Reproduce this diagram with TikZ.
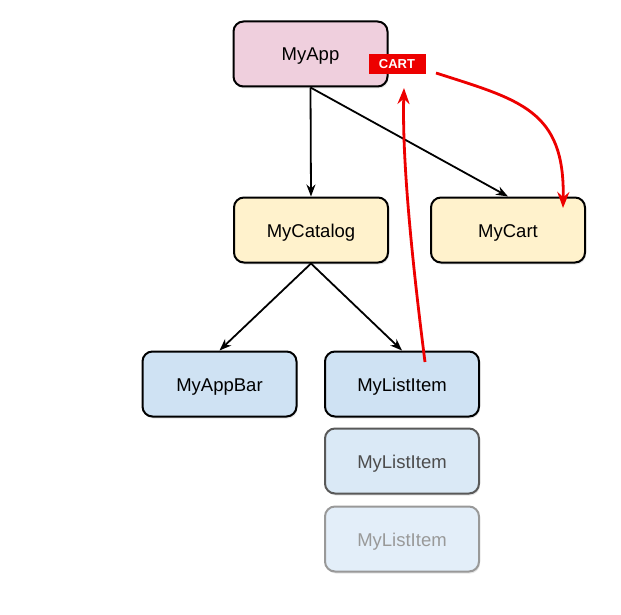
\documentclass[tikz,border=0pt]{standalone}
\usepackage{fontspec}
\setsansfont{Liberation Sans}
\usepackage{tikz}
\tikzset{every picture/.style={/utils/exec={\sffamily}}}
\usetikzlibrary{positioning, arrows.meta, shadows}
\definecolor{App_pink}{RGB}{239,207,221}
\definecolor{Widget_yellow}{RGB}{255,242,204}
\definecolor{Item_blue}{RGB}{207,226,243}
\definecolor{Item_blue2}{RGB}{218,233,246}
\definecolor{Item_blue3}{RGB}{227,238,249}
\definecolor{Cart_red}{RGB}{237,0,0}
\tikzset{
  widget/.style={draw, line width=2pt, rounded corners=10pt, minimum width=154pt,
    minimum height=65pt, inner sep=0pt, text height=14pt, text depth=0pt,
    font=\fontsize{18.5}{20}\selectfont,
    drop shadow={opacity=0.2, shadow xshift=1pt, shadow yshift=-2pt}},
  link/.style={line width=1.8pt, -{Stealth[length=12pt, width=9pt]}},
  state/.style={draw=Cart_red, line width=2.8pt, -{Stealth[length=16pt, width=12pt]}}
}

\begin{document}
\begin{tikzpicture}[x=1pt, y=-1pt]
    \useasboundingbox (0,0) rectangle (621,615);
    % widget tree
    \node[widget, fill=App_pink] (myapp) at (310.5,54) {MyApp};
    \node[widget, fill=Widget_yellow] (mycatalog) at (311,230) {MyCatalog};
    \node[widget, fill=Widget_yellow] (mycart) at (508,230) {MyCart};
    \node[widget, fill=Item_blue] (myappbar) at (219.5,384) {MyAppBar};
    \node[widget, fill=Item_blue] (mylistitem) at (402,384) {MyListItem};
    \node[widget, fill=Item_blue2, draw=black!65, text=black!70] (mylistitem2) at (402,461) {MyListItem};
    \node[widget, fill=Item_blue3, draw=black!40, text=black!40] (mylistitem3) at (402,539) {MyListItem};
    \node[fill=Cart_red, text=white, inner sep=0pt, minimum width=57pt, minimum height=20pt,
        font=\bfseries\fontsize{13}{14}\selectfont] (cart) at (397,64) {CART};

    \draw[link] (myapp.south) -- (mycatalog.north);
    \draw[link] (myapp.south) -- (mycart.north);
    \draw[link] (mycatalog.south) -- (myappbar.north);
    \draw[link] (mycatalog.south) -- (mylistitem.north);

    % state flow
    \coordinate (tap) at (425,362);
    \coordinate (cartin) at (404,88);
    \coordinate (cartout) at (436,73);
    \coordinate (cartdrop) at (563,208);
    \draw[state] (tap) .. controls (412,260) and (402,160) .. (cartin);
    \draw[state] (cartout) .. controls (520,100) and (565,110) .. (cartdrop);
\end{tikzpicture}
\end{document}
